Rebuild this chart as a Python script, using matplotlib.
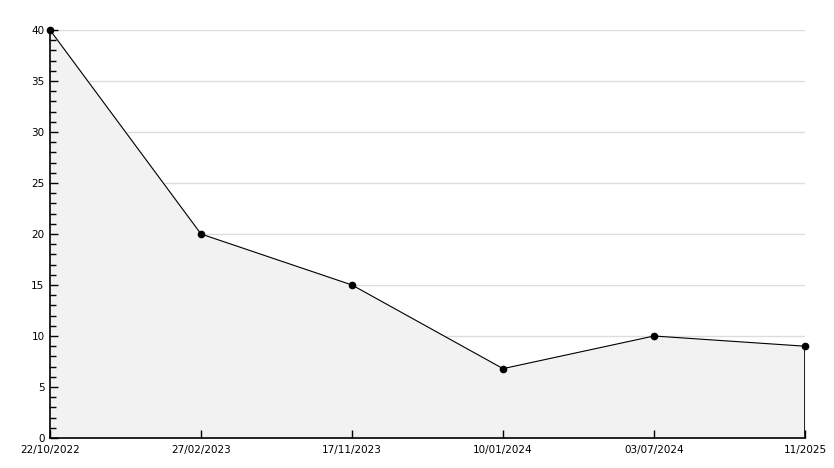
import matplotlib
matplotlib.use('Agg')
import matplotlib.pyplot as plt
from matplotlib.ticker import MultipleLocator

dates = ['22/10/2022', '27/02/2023', '17/11/2023', '10/01/2024', '03/07/2024', '11/2025']
values = [40, 20, 15, 6.8, 10, 9]
grid_levels = [5, 10, 15, 20, 25, 30, 35, 40]
x = list(range(len(dates)))

fig = plt.figure(figsize=(8.34, 4.68), dpi=100)
ax = fig.add_axes([50/834, 30/468, 755/834, 408/468])

# grid lines behind the fill
for g in grid_levels:
    ax.axhline(g, color='#dddddd', lw=1, zorder=0.5)

ax.fill_between(x, values, 0, color='#f2f2f2', zorder=1)
ax.plot(x, values, color='black', lw=0.8, marker='o', ms=4.5, zorder=3, clip_on=False)
ax.vlines(x[-1], 0, values[-1], color='black', lw=1.2, zorder=3)

ax.set_xlim(0, len(dates) - 1)
ax.set_ylim(0, 40)
ax.set_xticks(x)
ax.set_xticklabels(dates)
ax.yaxis.set_major_locator(MultipleLocator(5))
ax.yaxis.set_minor_locator(MultipleLocator(1))
ax.set_axisbelow(False)

for s in ['top', 'right']:
    ax.spines[s].set_visible(False)
ax.spines['left'].set_linewidth(1.2)
ax.spines['bottom'].set_linewidth(1.2)

ax.tick_params(axis='both', direction='in', labelsize=7.5, width=1, length=6, pad=4)
ax.tick_params(axis='y', which='minor', direction='in', length=4, width=1)
ax.tick_params(axis='x', pad=5)

fig.savefig('out.png', dpi=100)
